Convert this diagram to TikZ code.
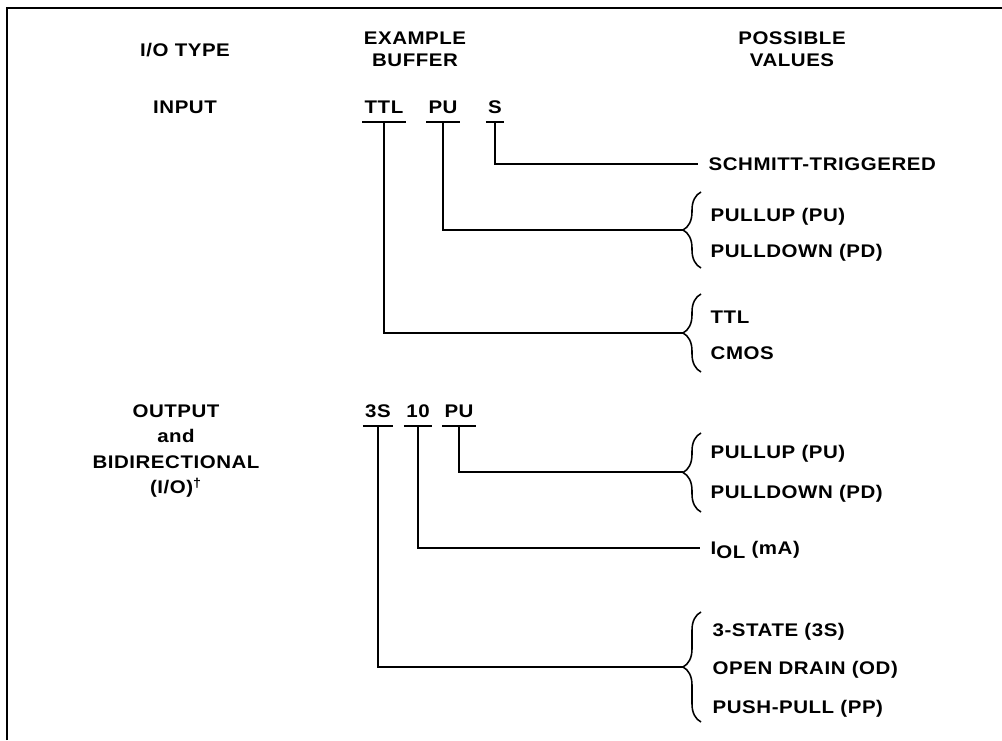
\documentclass[tikz,border=0pt]{standalone}
\usepackage{fontspec}
\usetikzlibrary{decorations.pathreplacing}
\newfontfamily\labelfont{Liberation Sans}[FakeStretch=1.12, LetterSpace=3]
\tikzset{
  io-text/.style={font=\labelfont\bfseries\fontsize{13}{15.6}\selectfont, inner sep=0pt, align=center},
  io-code/.style={io-text, text height=9.3pt, text depth=0pt, inner xsep=1.5pt, inner ysep=6pt},
  io-value/.style={io-text, anchor=west, text height=9.3pt, text depth=0pt, inner xsep=0.26cm},
  io-brace/.style={decorate, decoration={brace, amplitude=0.45cm}},
  io-line/.style={line width=1.1pt}
}

\begin{document}
\begin{tikzpicture}[x=0.025cm, y=-0.025cm]
  \useasboundingbox (0,0) rectangle (1002,741);

  % frame
  \draw[line width=1.3pt] (7,740) -- (7,8) -- (1002,8);

  % column heads
  \node[io-text] (iotype) at (185,50) {I/O TYPE};
  \node[io-text] (exbuf) at (415,49) {EXAMPLE\\BUFFER};
  \node[io-text] (possval) at (792,49) {POSSIBLE\\VALUES};

  % I/O types
  \node[io-text] (input) at (185,107) {INPUT};
  \node[io-text, font=\labelfont\bfseries\fontsize{13}{18}\selectfont] (output) at (176,451)
    {OUTPUT\\and\\BIDIRECTIONAL\\(I/O)\textsuperscript{†}};

  % example buffers
  \node[io-code] (ttl) at (384,107) {TTL};
  \node[io-code] (pu) at (443,107) {PU};
  \node[io-code] (s) at (495,107) {S};
  \node[io-code] (ts) at (378,411) {3S};
  \node[io-code] (ten) at (418,411) {10};
  \node[io-code] (pub) at (459,411) {PU};
  \foreach \c in {ttl,pu,s,ts,ten,pub}
    \draw[io-line] (\c.south west) -- (\c.south east);

  % possible values
  \node[io-value] (schmitt) at (698,164) {SCHMITT-TRIGGERED};
  \node[io-value] (pullup) at (700,215) {PULLUP (PU)};
  \node[io-value] (pulldown) at (700,251) {PULLDOWN (PD)};
  \node[io-value] (ttlval) at (700,317) {TTL};
  \node[io-value] (cmos) at (700,353) {CMOS};
  \node[io-value] (pullupb) at (700,452) {PULLUP (PU)};
  \node[io-value] (pulldownb) at (700,492) {PULLDOWN (PD)};
  \node[io-value] (iol) at (700,548) {I\raisebox{-0.45ex}{OL} (mA)};
  \node[io-value] (tristate) at (702,630) {3-STATE (3S)};
  \node[io-value] (opendrain) at (702,668) {OPEN DRAIN (OD)};
  \node[io-value] (pushpull) at (702,707) {PUSH-PULL (PP)};

  % braces
  \draw[io-line, io-brace] (701,268) -- (701,192);
  \draw[io-line, io-brace] (701,372) -- (701,294);
  \draw[io-line, io-brace] (701,512) -- (701,433);
  \draw[io-line, io-brace] (701,722) -- (701,612);
  \coordinate (putip) at (683,230);
  \coordinate (ttltip) at (683,333);
  \coordinate (pubtip) at (683,472);
  \coordinate (tstip) at (683,667);

  % connectors
  \draw[io-line] (s.south) |- (schmitt.west);
  \draw[io-line] (pu.south) |- (putip);
  \draw[io-line] (ttl.south) |- (ttltip);
  \draw[io-line] (pub.south) |- (pubtip);
  \draw[io-line] (ten.south) |- (iol.west);
  \draw[io-line] (ts.south) |- (tstip);
\end{tikzpicture}
\end{document}
